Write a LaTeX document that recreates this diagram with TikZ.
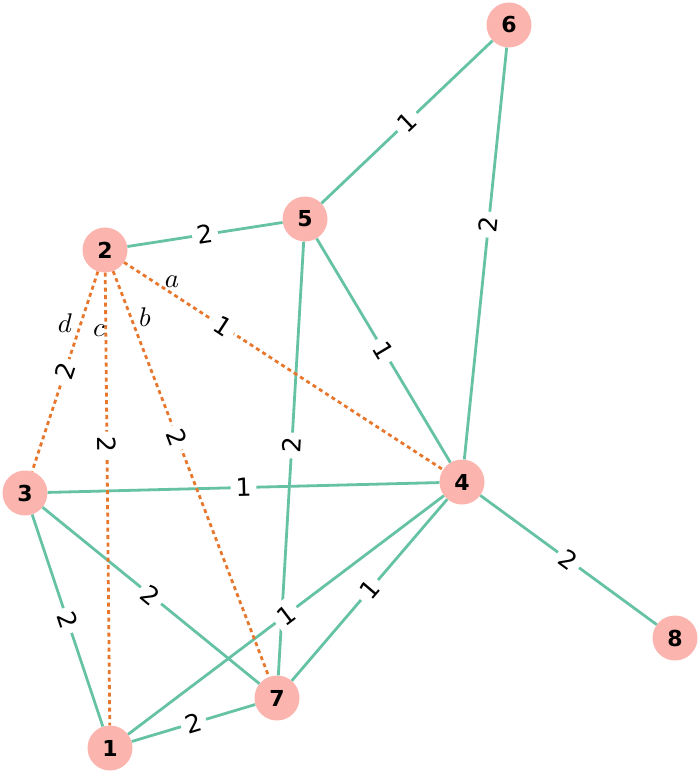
\documentclass[tikz,border=0pt]{standalone}
\usepackage{fontspec}
\setmainfont{DejaVu Sans}
\usepackage{xcolor}
\usepackage{tikz}
\definecolor{nodepink}{HTML}{FBB4AE}
\definecolor{edgeteal}{HTML}{66C2A5}
\definecolor{cutorange}{HTML}{E8772E}

\begin{document}
\begin{tikzpicture}[x=1pt,y=-1pt,
  vertex/.style={circle,fill=nodepink,minimum size=45pt,inner sep=0pt,font=\fontsize{22}{22}\selectfont\bfseries},
  tie/.style={edgeteal,line width=2.8pt},
  cut/.style={cutorange,line width=2.8pt,dash pattern=on 4pt off 3.5pt},
  weight/.style={fill=white,text=black,inner sep=5pt,sloped,font=\fontsize{25}{25}\selectfont},
  tag/.style={scale=2.7,font=\normalsize}]
\useasboundingbox (0,0) rectangle (700,775);
\node[vertex] (n1) at (110,748) {1};
\node[vertex] (n2) at (105,250) {2};
\node[vertex] (n3) at (25,493) {3};
\node[vertex] (n4) at (462,482) {4};
\node[vertex] (n5) at (305,219) {5};
\node[vertex] (n6) at (509,25) {6};
\node[vertex] (n7) at (277,698) {7};
\node[vertex] (n8) at (675,638) {8};
% weighted edges
\draw[tie] (n6) -- node[weight] {1} (n5);
\draw[tie] (n6) -- node[weight,pos=0.43] {2} (n4);
\draw[tie] (n2) -- node[weight] {2} (n5);
\draw[tie] (n5) -- node[weight] {1} (n4);
\draw[tie] (n5) -- node[weight,pos=0.47] {2} (n7);
\draw[tie] (n3) -- node[weight] {1} (n4);
\draw[tie] (n4) -- node[weight] {2} (n8);
\draw[tie] (n3) -- node[weight] {2} (n7);
\draw[tie] (n3) -- node[weight] {2} (n1);
\draw[tie] (n1) -- node[weight] {2} (n7);
\draw[tie] (n1) -- node[weight] {1} (n4);
\draw[tie] (n7) -- node[weight] {1} (n4);
% dashed edges out of 2
\draw[cut] (n2) -- node[weight,pos=0.31] {1} (n4);
\draw[cut] (n2) -- node[weight,pos=0.41] {2} (n7);
\draw[cut] (n2) -- node[weight,pos=0.38] {2} (n1);
\draw[cut] (n2) -- node[weight] {2} (n3);
\node[tag] (ta) at (172,282) {$a$};
\node[tag] (tb) at (145,317) {$b$};
\node[tag] (tc) at (99,331) {$c$};
\node[tag] (td) at (65,323) {$d$};
\end{tikzpicture}
\end{document}
